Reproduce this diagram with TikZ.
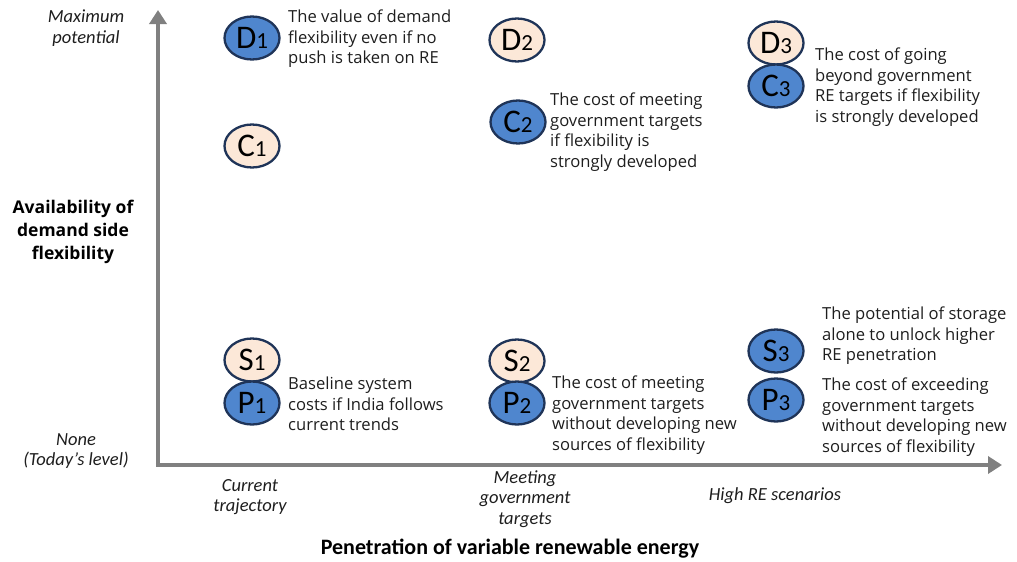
\documentclass[tikz,border=0pt]{standalone}
\usepackage{fontspec}
\setmainfont{Open Sans}
\newfontfamily\calib{Carlito}
\usetikzlibrary{shapes.geometric,arrows.meta}
\definecolor{axisgray}{RGB}{128,128,128}
\definecolor{bluefill}{RGB}{79,134,206}
\definecolor{peach}{RGB}{252,232,216}
\definecolor{navy}{RGB}{31,52,88}
\definecolor{txt}{RGB}{30,30,30}
\tikzset{
  bub/.style={ellipse,draw=navy,line width=2.3pt,minimum width=55pt,minimum height=43pt,inner sep=0pt,text=black},
  bblue/.style={bub,fill=bluefill},
  bpeach/.style={bub,fill=peach},
  desc/.style={anchor=north west,align=left,font=\fontsize{16.6}{20.5}\selectfont,text=txt,inner sep=0pt},
  axlab/.style={align=center,font=\calib\itshape\fontsize{18.5}{20.5}\selectfont,text=txt,inner sep=0pt},
  axarrow/.style={draw=axisgray,line width=4.5pt,-{Triangle[length=14pt,width=17pt]}}
}
\newcommand{\lbl}[2]{{\calib\fontsize{33}{33}\selectfont #1}{\calib\fontsize{23}{23}\selectfont #2}}
\begin{document}
\begin{tikzpicture}[x=1pt,y=-1pt]
\useasboundingbox (0,0) rectangle (1017,562);
\coordinate (O) at (158,465);
\coordinate (Ytop) at (158,10);
\coordinate (Xend) at (1002,465);
\draw[axarrow] (O) -- (Ytop);
\draw[axarrow] ([xshift=-2.25pt]O) -- (Xend);
% bubbles
\node[bblue] (D1) at (252,38) {\lbl{D}{1}};
\node[bpeach] (C1) at (252,146) {\lbl{C}{1}};
\node[bpeach] (D2) at (517,40) {\lbl{D}{2}};
\node[bblue] (C2) at (518,122) {\lbl{C}{2}};
\node[bpeach] (D3) at (776,43) {\lbl{D}{3}};
\node[bblue] (C3) at (776,86) {\lbl{C}{3}};
\node[bpeach] (S1) at (252,360) {\lbl{S}{1}};
\node[bblue] (P1) at (252,403) {\lbl{P}{1}};
\node[bpeach] (S2) at (517,361) {\lbl{S}{2}};
\node[bblue] (P2) at (517,403) {\lbl{P}{2}};
\node[bblue] (S3) at (776,351) {\lbl{S}{3}};
\node[bblue] (P3) at (776,400) {\lbl{P}{3}};
% descriptions
\node[desc] (tD1) at (288,10) {The value of demand\\flexibility even if no\\push is taken on RE};
\node[desc] (tC2) at (550,93) {The cost of meeting\\government targets\\if flexibility is\\strongly developed};
\node[desc] (tC3) at (815,48) {The cost of going\\beyond government\\RE targets if flexibility\\is strongly developed};
\node[desc] (tP1) at (288,377) {Baseline system\\costs if India follows\\current trends};
\node[desc] (tP2) at (552,376) {The cost of meeting\\government targets\\without developing new\\sources of flexibility};
\node[desc] (tS3) at (822,307) {The potential of storage\\alone to unlock higher\\RE penetration};
\node[desc] (tP3) at (822,378) {The cost of exceeding\\government targets\\without developing new\\sources of flexibility};
% axis labels
\node[axlab] (ymax) at (86,28) {Maximum\\potential};
\node[axlab] (ynone) at (76,451) {None\\(Today’s level)};
\node[align=center,font=\bfseries\fontsize{17.5}{23}\selectfont,text=black,inner sep=0pt] (ytitle) at (73,232) {Availability of\\demand side\\flexibility};
\node[axlab] (x1) at (250,497) {Current\\trajectory};
\node[axlab] (x2) at (525,499) {Meeting\\government\\targets};
\node[axlab] (x3) at (775,496) {High RE scenarios};
\node[font=\calib\bfseries\fontsize{22}{24}\selectfont,text=black,inner sep=0pt] (xtitle) at (510,549) {Penetration of variable renewable energy};
\end{tikzpicture}
\end{document}
